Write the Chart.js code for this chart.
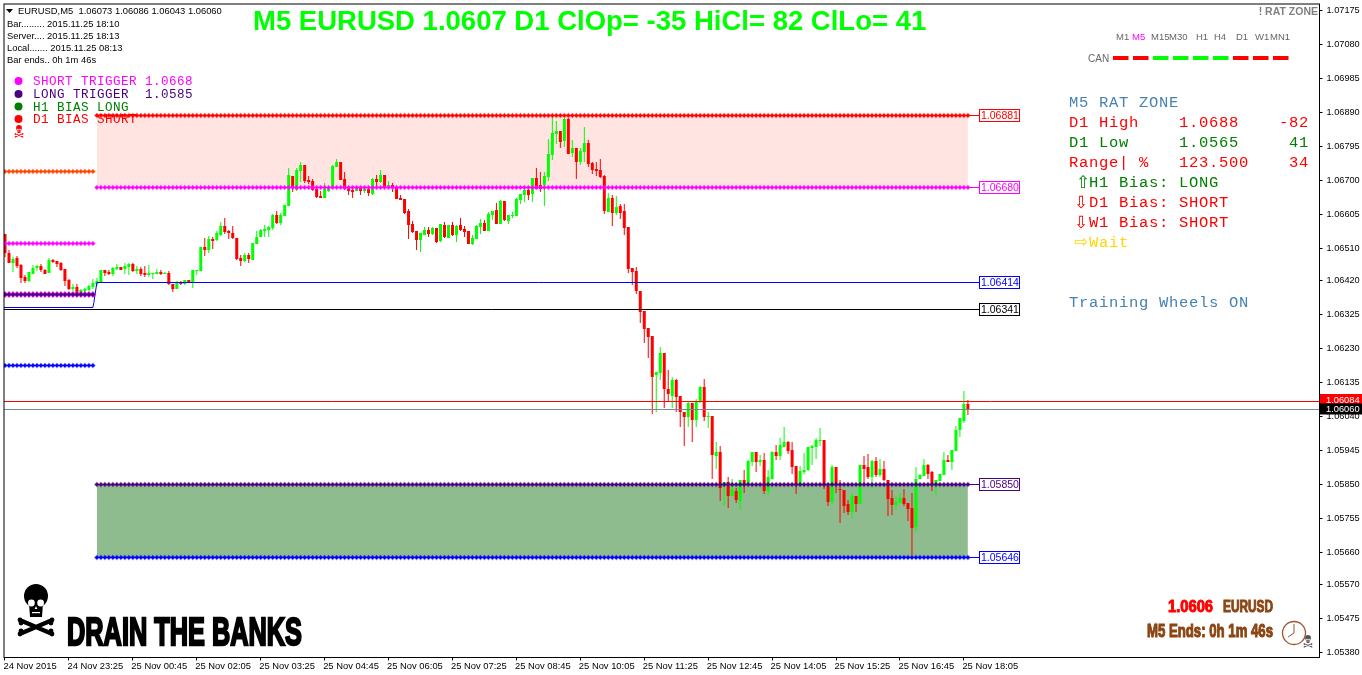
<!DOCTYPE html>
<html><head><meta charset="utf-8"><style>html,body{margin:0;padding:0;background:#fff}canvas{display:block}</style>
<script src="https://cdn.jsdelivr.net/npm/chart.js@4/dist/chart.umd.js"></script></head>
<body><canvas id="c" width="1362" height="675"></canvas>
<script>
// EURUSD M5 bars, in points above 1.00000: [open, high, low, close]
const ohlcPoints=[
[6550,6550,6485,6496],[6496,6505,6468,6468],[6468,6485,6443,6480],[6482,6488,6454,6460],[6463,6466,6412,6426],[6429,6435,6412,6418],[6418,6443,6415,6443],[6438,6463,6438,6454],[6454,6463,6446,6460],[6460,6466,6443,6449],
[6449,6452,6438,6438],[6440,6482,6440,6477],[6477,6480,6468,6471],[6474,6474,6457,6466],[6468,6471,6446,6449],[6452,6452,6404,6418],[6421,6424,6393,6396],[6396,6410,6391,6401],[6401,6410,6374,6385],[6385,6396,6374,6393],
[6391,6399,6385,6396],[6393,6407,6391,6404],[6401,6424,6396,6412],[6410,6426,6404,6418],[6415,6449,6415,6449],[6449,6449,6432,6440],[6443,6449,6435,6438],[6438,6457,6432,6454],[6452,6466,6449,6457],[6457,6457,6449,6449],
[6452,6468,6438,6460],[6457,6468,6435,6466],[6466,6468,6443,6446],[6446,6460,6438,6452],[6452,6457,6432,6438],[6440,6460,6429,6435],[6435,6463,6429,6440],[6438,6440,6424,6440],[6438,6452,6438,6443],[6443,6449,6435,6438],
[6438,6443,6438,6440],[6440,6446,6407,6410],[6410,6410,6388,6396],[6396,6418,6396,6412],[6415,6418,6407,6410],[6410,6421,6407,6421],[6421,6421,6412,6412],[6412,6449,6399,6449],[6446,6449,6435,6449],[6446,6513,6446,6513],
[6513,6538,6488,6505],[6505,6544,6496,6536],[6536,6541,6508,6530],[6533,6558,6530,6552],[6547,6583,6544,6572],[6572,6594,6550,6555],[6558,6561,6536,6552],[6552,6572,6536,6538],[6538,6538,6477,6480],[6482,6491,6460,6474],
[6474,6496,6471,6491],[6491,6496,6468,6480],[6477,6524,6477,6524],[6522,6558,6522,6541],[6541,6563,6541,6561],[6558,6575,6541,6563],[6561,6572,6541,6569],[6566,6605,6561,6602],[6602,6613,6577,6580],[6580,6608,6575,6602],
[6600,6630,6600,6630],[6627,6733,6627,6714],[6711,6711,6666,6677],[6672,6733,6669,6728],[6725,6750,6694,6742],[6742,6742,6691,6697],[6700,6711,6689,6694],[6697,6703,6669,6672],[6675,6675,6650,6652],[6655,6669,6650,6650],
[6650,6691,6650,6675],[6669,6680,6666,6677],[6680,6742,6680,6739],[6736,6758,6736,6750],[6750,6750,6700,6700],[6703,6722,6672,6675],[6677,6683,6658,6669],[6672,6675,6650,6666],[6669,6683,6669,6680],[6680,6683,6658,6669],
[6669,6683,6663,6675],[6675,6683,6655,6663],[6661,6705,6658,6703],[6703,6714,6683,6694],[6694,6728,6691,6714],[6714,6714,6675,6677],[6680,6697,6675,6686],[6686,6691,6666,6680],[6680,6683,6647,6647],[6650,6658,6644,6644],
[6647,6647,6605,6608],[6613,6619,6536,6575],[6577,6586,6552,6555],[6558,6558,6505,6533],[6533,6552,6499,6552],[6547,6569,6547,6561],[6561,6569,6541,6550],[6550,6569,6547,6566],[6566,6566,6524,6527],[6530,6577,6527,6577],
[6575,6583,6538,6541],[6538,6575,6538,6575],[6575,6583,6544,6547],[6547,6575,6527,6572],[6575,6594,6558,6561],[6563,6572,6541,6555],[6558,6558,6522,6522],[6522,6547,6519,6538],[6536,6575,6536,6572],[6569,6591,6550,6580],
[6580,6588,6558,6558],[6558,6610,6558,6605],[6602,6613,6588,6613],[6616,6636,6577,6577],[6577,6644,6577,6641],[6641,6641,6586,6588],[6586,6602,6577,6602],[6600,6610,6594,6602],[6600,6650,6600,6647],[6644,6661,6633,6661],
[6658,6683,6638,6672],[6672,6683,6644,6658],[6661,6705,6638,6705],[6705,6733,6675,6675],[6686,6722,6666,6675],[6686,6722,6627,6711],[6708,6815,6697,6773],[6770,6875,6756,6831],[6828,6864,6800,6837],[6837,6837,6789,6806],
[6809,6873,6792,6870],[6870,6873,6773,6773],[6775,6812,6764,6789],[6789,6789,6703,6750],[6750,6789,6742,6781],[6778,6848,6750,6803],[6803,6812,6736,6745],[6747,6750,6717,6728],[6731,6750,6711,6725],[6728,6758,6706,6708],
[6711,6714,6605,6613],[6610,6663,6610,6650],[6650,6658,6572,6608],[6608,6655,6602,6624],[6627,6633,6591,6608],[6613,6633,6547,6566],[6569,6569,6440,6452],[6454,6454,6407,6443],[6446,6457,6382,6391],[6391,6391,6301,6332],
[6335,6335,6245,6285],[6287,6287,6204,6262],[6265,6265,6045,6151],[6154,6165,6053,6165],[6162,6234,6142,6218],[6218,6218,6064,6115],[6117,6170,6084,6101],[6098,6151,6062,6140],[6140,6145,6053,6095],[6098,6098,6011,6051],
[6053,6053,5958,6037],[6037,6084,6009,6076],[6078,6078,5969,6031],[6031,6087,6009,6084],[6081,6126,6076,6123],[6123,6143,6028,6037],[6037,6051,6006,6042],[6042,6042,5866,5933],[5930,5969,5894,5941],[5941,5958,5802,5841],
[5844,5855,5788,5855],[5855,5869,5785,5816],[5816,5866,5816,5836],[5830,5841,5797,5805],[5802,5861,5777,5861],[5861,5889,5825,5847],[5847,5917,5847,5914],[5911,5941,5900,5941],[5941,5941,5883,5911],[5911,5933,5900,5917],
[5917,5938,5822,5830],[5830,5889,5819,5869],[5866,5944,5866,5941],[5941,5961,5917,5928],[5928,5978,5919,5961],[5955,6011,5955,5969],[5969,5972,5936,5944],[5947,5969,5880,5897],[5900,5900,5822,5847],[5847,5900,5847,5886],
[5883,5938,5880,5891],[5889,5955,5886,5953],[5950,5961,5905,5958],[5955,5978,5922,5975],[5972,6006,5958,5975],[5975,5975,5838,5844],[5844,5847,5788,5800],[5800,5905,5794,5897],[5897,5897,5827,5847],[5836,5861,5741,5833],
[5833,5833,5769,5788],[5794,5805,5763,5772],[5772,5827,5755,5816],[5816,5816,5772,5794],[5794,5903,5794,5903],[5903,5928,5850,5894],[5897,5936,5866,5869],[5869,5917,5836,5914],[5914,5925,5869,5875],[5875,5922,5869,5894],
[5894,5914,5858,5861],[5861,5861,5760,5808],[5811,5833,5763,5791],[5791,5816,5777,5800],[5797,5825,5797,5813],[5813,5836,5788,5794],[5797,5797,5747,5780],[5785,5827,5652,5727],[5730,5897,5716,5866],[5864,5878,5864,5875],
[5872,5922,5872,5903],[5903,5908,5864,5878],[5883,5886,5830,5852],[5852,5861,5819,5861],[5858,5878,5858,5878],[5875,5941,5875,5917],[5917,5933,5911,5911],[5911,5947,5891,5947],[5944,6014,5944,6003],[6003,6034,5983,6034],
[6028,6112,6020,6073],[6073,6086,6043,6060]];
const timeLabels=["24 Nov 2015","24 Nov 23:25","25 Nov 00:45","25 Nov 02:05","25 Nov 03:25","25 Nov 04:45","25 Nov 06:05","25 Nov 07:25","25 Nov 08:45","25 Nov 10:05","25 Nov 11:25","25 Nov 12:45","25 Nov 14:05","25 Nov 15:25","25 Nov 16:45","25 Nov 18:05"];
const priceTicks=[1.07175,1.0708,1.06985,1.0689,1.06795,1.067,1.06605,1.0651,1.0642,1.06325,1.0623,1.06135,1.0604,1.05945,1.0585,1.05755,1.0566,1.0557,1.05475,1.0538];
const shortTop=1.06881, shortTrigger=1.0668, longTrigger=1.0585, longBottom=1.05646;
const bluePrice=1.06414, blueOld=1.06346, blackPrice=1.06341, askPrice=1.06084, bidPrice=1.0606;
const oldOrange=1.06724, oldMagenta=1.06524, oldPurple=1.06383, oldBlue=1.06183;
const canColors=['#ff0000','#ff0000','#00ff00','#00ff00','#00ff00','#00ff00','#ff0000','#ff0000','#ff0000'];
const tfNames=['M1','M5','M15','M30','H1','H4','D1','W1','MN1'];

const toPrice=p=>1+p/1e5;
const RED='#ff0000',LIME='#00ff00';
const range=(a,b)=>{const r=[];for(let i=a;i<=b;i++)r.push(i);return r;};
const labelIdx=243.9;
function level(price,from,to,color,tail,halo){
  const pts=range(from,to).map(i=>({x:i,y:price}));
  if(tail)pts.push({x:labelIdx,y:price});
  const n=to-from+1;
  return {type:'line',data:pts,borderColor:color,borderWidth:1,order:1,fill:false,
    pointStyle:'rectRot',pointBackgroundColor:color,pointBorderColor:halo||color+'70',pointBorderWidth:1.2,pointHoverRadius:0,
    pointRadius:c=>c.dataIndex<n?2.1:0};
}
function hline(pts,color){return {type:'line',data:pts.map(p=>({x:p[0],y:p[1]})),borderColor:color,borderWidth:1,pointRadius:0,fill:false,order:2,tension:0};}
function zone(top,bottom,color){return {type:'line',data:[{x:23,y:top},{x:241,y:top}],borderWidth:0,borderColor:'transparent',pointRadius:0,fill:{target:{value:bottom}},backgroundColor:color,order:6};}

const wickData=ohlcPoints.map((r,i)=>({x:i,y:[toPrice(r[2]),toPrice(r[1])]}));
const bodyData=ohlcPoints.map((r,i)=>({x:i,y:[toPrice(r[0]),toPrice(r[3])]}));
const barColors=ohlcPoints.map(r=>r[3]>=r[0]?LIME:RED);
const barCommon={type:'bar',grouped:false,borderWidth:0,borderSkipped:false,inflateAmount:0};

const FONT="'Liberation Sans',Arial,sans-serif", MONO="'Liberation Mono',monospace";

function txt(c,s,x,y,font,color,align){c.font=font;c.fillStyle=color;c.textAlign=align||'left';c.textBaseline='alphabetic';c.fillText(s,x,y);}
function mono(c,s,x,y,size,gap,color,align){c.letterSpacing=gap+'px';txt(c,s,x,y,size+"px "+MONO,color,align);c.letterSpacing='0px';}
function heavy(c,s,x0,x1,base,cap,color){
  const size=cap/0.716;c.save();c.font='bold '+size+"px 'Liberation Sans',Arial,sans-serif";
  const w=c.measureText(s).width;c.translate(x0,base);c.scale((x1-x0)/w,1);
  c.fillStyle=color;c.strokeStyle=color;c.lineWidth=size*0.06;c.lineJoin='miter';c.textAlign='left';c.textBaseline='alphabetic';
  c.strokeText(s,0,0);c.fillText(s,0,0);c.restore();
}
// skull and crossbones drawn around (x,y), k=1 is about 34 wide by 50 tall
function skull(c,x,y,k,color){
  c.save();c.translate(x,y);c.scale(k,k);c.fillStyle=color;c.strokeStyle=color;
  c.beginPath();c.arc(0,-13,12,0,Math.PI*2);c.fill();
  c.beginPath();c.moveTo(-7,-6);c.lineTo(7,-6);c.lineTo(6,8);c.lineTo(-6,8);c.closePath();c.fill();
  c.fillStyle='#fff';
  c.beginPath();c.arc(-4.6,-6,3.4,0,Math.PI*2);c.arc(4.6,-6,3.4,0,Math.PI*2);c.fill();
  c.beginPath();c.moveTo(0,-3);c.lineTo(1.4,0);c.lineTo(-1.4,0);c.closePath();c.fill();
  c.fillRect(-4,3,8,1.2);
  c.lineWidth=4.2;c.lineCap='round';
  c.beginPath();c.moveTo(-14,12);c.lineTo(14,24);c.moveTo(14,12);c.lineTo(-14,24);c.stroke();
  c.fillStyle=color;
  [[-16,11],[-15,14],[16,11],[15,14],[-16,25],[-15,22],[16,25],[15,22]].forEach(p=>{c.beginPath();c.arc(p[0],p[1],2.4,0,Math.PI*2);c.fill();});
  c.restore();
}

// keep marks on whole device pixels, as the charting terminal does
const crisp={id:'crisp',afterDatasetsUpdate(chart){
  chart.data.datasets.forEach((d,i)=>{
    chart.getDatasetMeta(i).data.forEach(el=>{
      if(d.type==='bar'){const y=Math.round(el.y);let b=Math.round(el.base);if(b===y)b=y+1;el.y=y;el.base=b;}
      else el.y=Math.round(el.y)+.5;
    });
  });
}};

const overlay={id:'overlay',afterDraw(chart){
  const c=chart.ctx,a=chart.chartArea,ys=chart.scales.y;
  c.save();
  c.strokeStyle='#000';c.lineWidth=1;c.strokeRect(a.left,a.top,a.right-a.left,a.bottom-a.top);
  txt(c,'M5 EURUSD 1.0607 D1 ClOp= -35 HiCl= 82 ClLo= 41',253,29.5,"bold 27.5px 'Liberation Sans',Arial,sans-serif",LIME);
  c.fillStyle='#000';c.beginPath();c.moveTo(6,9);c.lineTo(13,9);c.lineTo(9.5,13);c.closePath();c.fill();
  const sm="9.4px "+FONT;
  txt(c,'EURUSD,M5  1.06073 1.06086 1.06043 1.06060',18,14,sm,'#000');
  txt(c,'Bar......... 2015.11.25 18:10',7,27,sm,'#000');
  txt(c,'Server.... 2015.11.25 18:13',7,39,sm,'#000');
  txt(c,'Local....... 2015.11.25 08:13',7,51,sm,'#000');
  txt(c,'Bar ends.. 0h 1m 46s',7,63,sm,'#000');
  [['#ff00ff','SHORT TRIGGER 1.0668',81],['#4b0082','LONG TRIGGER  1.0585',94],['#008000','H1 BIAS LONG',106.5],['#ff0000','D1 BIAS SHORT',119]].forEach(r=>{
    c.fillStyle=r[0];c.beginPath();c.arc(18.5,r[2],4,0,Math.PI*2);c.fill();
    mono(c,r[1],33,r[2]+4,12.6,0.44,r[0]);
  });
  skull(c,19,131,0.24,RED);
  const sb='#4682b4', gr='#008000', S=15.5, G=0.7;
  mono(c,'M5 RAT ZONE',1069,107,S,G,sb);
  mono(c,'D1 High',1069,127,S,G,RED);mono(c,'1.0688',1179,127,S,G,RED);mono(c,'-82',1309,127,S,G,RED,'right');
  mono(c,'D1 Low',1069,147,S,G,gr);mono(c,'1.0565',1179,147,S,G,gr);mono(c,'41',1309,147,S,G,gr,'right');
  mono(c,'Range| %',1069,167,S,G,RED);mono(c,'123.500',1179,167,S,G,RED);mono(c,'34',1309,167,S,G,RED,'right');
  const ar="17px 'DejaVu Sans'";
  txt(c,'\u21E7',1076,188,ar,gr);mono(c,'H1 Bias: LONG',1089,187,S,G,gr);
  txt(c,'\u21E9',1074,208,ar,RED);mono(c,'D1 Bias: SHORT',1089,207,S,G,RED);
  txt(c,'\u21E9',1074,228,ar,RED);mono(c,'W1 Bias: SHORT',1089,227,S,G,RED);
  txt(c,'\u21E8',1074,247,ar,'#ffd700');mono(c,'Wait',1089,247,S,G,'#ffd700');
  mono(c,'Training Wheels ON',1069,307,S,G,sb);
  txt(c,'! RAT ZONE',1318,15,"bold 10.5px "+FONT,'#808080','right');
  const tfx=[1116,1132,1151,1169,1196,1214,1236,1255,1270];
  tfNames.forEach((t,i)=>txt(c,t,tfx[i],40,"9.5px "+FONT,t==='M5'?'#ff00ff':'#666'));
  txt(c,'CAN',1088,62,"10px "+FONT,'#666');
  canColors.forEach((col,i)=>{c.fillStyle=col;c.fillRect(1113+20*i,56,15.5,4);});
  [[shortTop,RED],[shortTrigger,'#ff00ff'],[bluePrice,'#0000ff'],[blackPrice,'#000'],[longTrigger,'#4b0082'],[longBottom,'#0000ff']].forEach(r=>{
    const y=Math.round(ys.getPixelForValue(r[0]));
    c.fillStyle='#fff';c.fillRect(979,y-6,40,12);c.strokeStyle=r[1];c.lineWidth=1;c.strokeRect(979.5,y-5.5,40,12);
    txt(c,r[0].toFixed(5),981,y+4,"10.5px "+FONT,r[1]);
  });
  [[askPrice,RED,394,10],[bidPrice,'#000',403.5,11]].forEach(r=>{
    c.fillStyle=r[1];c.fillRect(1320,r[2],42,r[3]);
    txt(c,r[0].toFixed(5),1326,r[2]+8.5,"9.3px "+FONT,'#fff');
  });
  skull(c,36,609,1,'#000');
  heavy(c,'DRAIN THE BANKS',67,302,645,28,'#000');
  heavy(c,'1.0606',1168,1213,612,12,RED);
  heavy(c,'EURUSD',1223,1273,612,12,'#8b4513');
  heavy(c,'M5 Ends: 0h 1m 46s',1147,1273,637,13,'#8b4513');
  c.strokeStyle='#a0522d';c.lineWidth=1.3;c.beginPath();c.arc(1294,633,11.5,0,Math.PI*2);c.stroke();
  c.lineWidth=1;c.beginPath();c.moveTo(1294,633);c.lineTo(1294,624);c.moveTo(1294,633);c.lineTo(1288,637);c.stroke();
  skull(c,1308,641,0.24,'#555');
  c.restore();
}};

const oldPurpleHalo=level(oldPurple,0,22,'#ff00ff');
oldPurpleHalo.pointRadius=2.8;oldPurpleHalo.order=1.5;

new Chart(document.getElementById('c'),{
  type:'bar',
  data:{datasets:[
    zone(shortTop,shortTrigger,'#ffe4e1'),
    zone(longTrigger,longBottom,'#8fbc8f'),
    {...barCommon,data:wickData,backgroundColor:barColors,barThickness:1,order:5},
    {...barCommon,data:bodyData,backgroundColor:barColors,barThickness:3,minBarLength:1,order:4},
    hline([[-0.25,blackPrice],[labelIdx,blackPrice]],'#000'),
    hline([[-0.25,blueOld],[22,blueOld],[22.25,1.06358],[22.5,1.0638],[23,bluePrice],[labelIdx,bluePrice]],'#0000ff'),
    hline([[-0.25,askPrice],[329,askPrice]],RED),
    hline([[-0.25,bidPrice],[329,bidPrice]],'#778899'),
    level(shortTop,23,241,RED,true),
    level(shortTrigger,23,241,'#ff00ff',true),
    level(longTrigger,23,241,'#4b0082',true),
    level(longBottom,23,241,'#0000ff',true),
    level(oldOrange,0,22,'#ff4500'),
    level(oldMagenta,0,22,'#ff00ff'),
    level(oldPurple,0,22,'#4b0082'),
    oldPurpleHalo,
    level(oldBlue,0,22,'#0000ff')
  ]},
  options:{
    responsive:false,animation:false,
    layout:{padding:{left:2.5,top:2.5,right:0,bottom:0}},
    plugins:{legend:{display:false},title:{display:false},tooltip:{enabled:false}},
    events:[],
    scales:{
      x:{type:'linear',offset:false,min:-0.25,max:329,
        grid:{offset:false,drawOnChartArea:false,drawTicks:true,tickLength:3,tickColor:'#000'},border:{display:false},
        afterBuildTicks(s){s.ticks=timeLabels.map((_,i)=>({value:i*16}));},
        afterFit(s){s.height=17.5;s.paddingLeft=0;s.paddingRight=0;},
        ticks:{autoSkip:false,maxRotation:0,align:'start',padding:0,labelOffset:-1.5,color:'#000',font:{family:"'Liberation Sans',Arial,sans-serif",size:9.4},
          callback(v){return timeLabels[v/16];}}},
      y:{type:'linear',position:'right',min:1.05366,max:1.07192,
        grid:{drawOnChartArea:false,drawTicks:true,tickLength:3,tickColor:'#000'},border:{display:false},
        afterBuildTicks(s){s.ticks=priceTicks.map(v=>({value:v}));},
        afterFit(s){s.width=42.5;s.paddingTop=0;s.paddingBottom=0;},
        ticks:{autoSkip:false,padding:4,color:'#000',font:{family:"'Liberation Sans',Arial,sans-serif",size:9.2},
          callback(v){return Number(v).toFixed(5);}}}
    }
  },
  plugins:[crisp,overlay]
});
</script></body></html>
